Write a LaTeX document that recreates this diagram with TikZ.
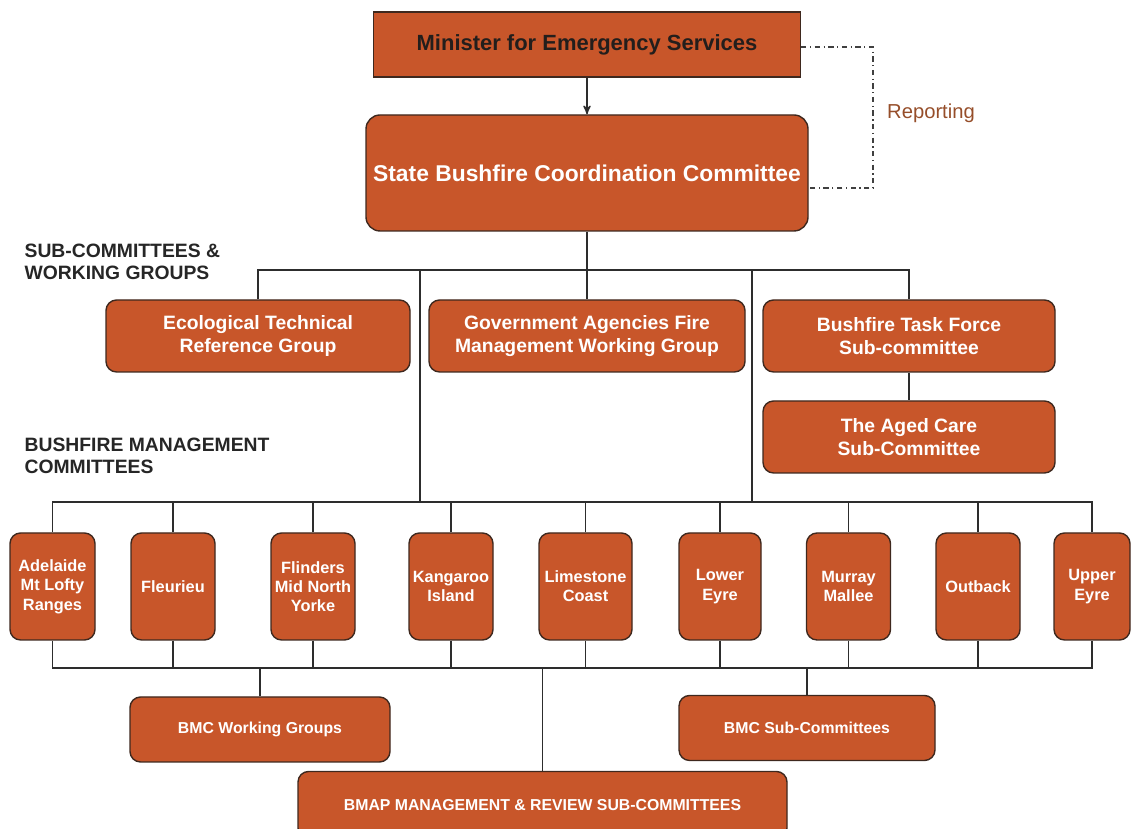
\documentclass[tikz,border=0pt]{standalone}
\usepackage{fontspec}
\setmainfont{Liberation Sans}
\usetikzlibrary{arrows,positioning,calc}
\definecolor{boxfill}{RGB}{200,86,42}
\definecolor{boxline}{RGB}{62,40,30}
\definecolor{reportcol}{RGB}{150,78,42}
\definecolor{linecol}{RGB}{45,45,45}

\begin{document}
\begin{tikzpicture}[>=stealth', line width=0.7pt, draw=linecol,
  box node/.style={rectangle,rounded corners=6pt,draw=boxline,line width=0.8pt,fill=boxfill,text=white,align=center,inner sep=2pt,font=\bfseries\fontsize{11}{13}\selectfont},
  mid box/.style={minimum height=1.44cm},
  bmc node/.style={box node,minimum width=1.68cm,minimum height=2.14cm,font=\bfseries\fontsize{9.3}{11}\selectfont},
  low box/.style={minimum height=1.30cm,font=\bfseries\fontsize{9}{11}\selectfont},
  section/.style={anchor=north west,align=left,inner sep=0pt,text=black!85,font=\bfseries\fontsize{11}{13}\selectfont},
  report line/.style={dash dot,line width=0.6pt,draw=black!75}]
\useasboundingbox (0,0) rectangle (22.64,16.58);

% top of the chart
\node[box node,rounded corners=0pt,minimum width=8.54cm,minimum height=1.30cm,text={rgb,255:red,35;green,30;blue,28},font=\bfseries\fontsize{12.5}{14}\selectfont] (mes) at (11.74,15.69) {Minister for Emergency Services};
\node[box node,rounded corners=8pt,minimum width=8.84cm,minimum height=2.32cm,font=\bfseries\fontsize{13}{15}\selectfont] (sbcc) at (11.74,13.12) {State Bushfire Coordination Committee};
\coordinate (r1) at (17.46,15.64);
\coordinate (r2) at (17.46,12.82);
\node[text=reportcol,font=\fontsize{11.5}{13}\selectfont] (rep) at (18.62,14.32) {Reporting};
\draw[->,line width=0.8pt] (mes) -- (sbcc);
\draw[report line] (mes.east |- r1) -- (r1) -- (r2) -- (sbcc.east |- r2);

% sub-committees
\node[section] (subl) at (0.48,11.72) {SUB-COMMITTEES \&\\WORKING GROUPS};
\node[box node,mid box,minimum width=6.08cm] (etrg) at (5.16,9.86) {Ecological Technical\\Reference Group};
\node[box node,mid box,minimum width=6.32cm] (gafm) at (11.74,9.86) {Government Agencies Fire\\Management Working Group};
\node[box node,mid box,minimum width=5.84cm] (btf) at (18.18,9.86) {Bushfire Task Force\\Sub-committee};
\node[box node,mid box,minimum width=5.84cm] (aged) at (18.18,7.84) {The Aged Care\\Sub-Committee};
\coordinate (b1) at (0,11.18);
\coordinate (j1) at (8.40,11.18);
\coordinate (j2) at (15.04,11.18);
\coordinate (b2) at (0,6.54);
\coordinate (b3) at (0,3.22);
\draw (etrg.north) -- (etrg.north |- b1) -- (btf.north |- b1) -- (btf.north);
\draw (sbcc.south) -- (gafm.north);
\draw (btf) -- (aged);
\draw (j1) -- (j1 |- b2);
\draw (j2) -- (j2 |- b2);

% bushfire management committees
\node[section] (bmcl) at (0.48,7.84) {BUSHFIRE MANAGEMENT\\COMMITTEES};
\node[bmc node,minimum width=1.70cm] (adl) at (1.05,4.85) {Adelaide\\Mt Lofty\\Ranges};
\node[bmc node] (fle) at (3.46,4.85) {Fleurieu};
\node[bmc node] (fli) at (6.26,4.85) {Flinders\\Mid North\\Yorke};
\node[bmc node] (kan) at (9.02,4.85) {Kangaroo\\Island};
\node[bmc node,minimum width=1.86cm] (lim) at (11.71,4.85) {Limestone\\Coast};
\node[bmc node,minimum width=1.64cm] (low) at (14.40,4.85) {Lower\\Eyre};
\node[bmc node] (mur) at (16.97,4.85) {Murray\\Mallee};
\node[bmc node] (out) at (19.56,4.85) {Outback};
\node[bmc node,minimum width=1.52cm] (upe) at (21.84,4.85) {Upper\\Eyre};
\draw (adl.north) -- (adl.north |- b2) -- (upe.north |- b2) -- (upe.north);
\draw (adl.south) -- (adl.south |- b3) -- (upe.south |- b3) -- (upe.south);
\foreach \n in {fle,fli,kan,lim,low,mur,out} {
  \draw (\n.north) -- (\n.north |- b2);
  \draw (\n.south) -- (\n.south |- b3);
}

% bottom row
\node[box node,low box,minimum width=5.20cm] (bwg) at (5.20,1.99) {BMC Working Groups};
\node[box node,low box,minimum width=5.12cm] (bsc) at (16.14,2.02) {BMC Sub-Committees};
\node[box node,low box,minimum width=9.78cm,minimum height=1.34cm] (bmap) at (10.85,0.48) {BMAP MANAGEMENT \& REVIEW SUB-COMMITTEES};
\draw (bwg.north) -- (bwg.north |- b3);
\draw (bsc.north) -- (bsc.north |- b3);
\draw (bmap.north) -- (bmap.north |- b3);
\end{tikzpicture}
\end{document}
